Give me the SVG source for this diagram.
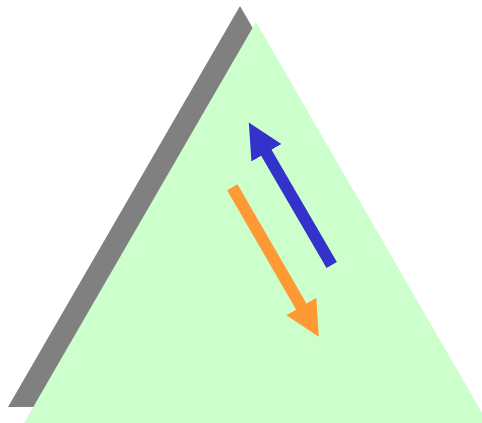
<svg xmlns="http://www.w3.org/2000/svg" width="482" height="423" viewBox="0 0 482 423">
  <defs>
    <style>
      .shaft { stroke-width: 12; stroke-linecap: butt; fill: none; }
    </style>
    <marker id="headBlue" markerUnits="userSpaceOnUse" markerWidth="40" markerHeight="40" viewBox="0 -20 40 40" refX="1" refY="0" orient="auto">
      <path d="M0,-17.3 L35,0 L0,17.3 Z" fill="#3333cc"/>
    </marker>
    <marker id="headOrange" markerUnits="userSpaceOnUse" markerWidth="40" markerHeight="40" viewBox="0 -20 40 40" refX="1" refY="0" orient="auto">
      <path d="M0,-17.3 L35,0 L0,17.3 Z" fill="#ff9933"/>
    </marker>
  </defs>
  <rect width="482" height="423" fill="#ffffff"/>
  <g id="shadow">
    <polygon points="240,6 8,407 472,407" fill="#808080"/>
  </g>
  <g id="triangle">
    <polygon points="256,22 24,423 488,423" fill="#ccffcc"/>
  </g>
  <g id="connectors">
    <line class="shaft" x1="331.7" y1="265" x2="265.9" y2="151.9" stroke="#3333cc" marker-end="url(#headBlue)"/>
    <line class="shaft" x1="232.3" y1="187.2" x2="301.8" y2="307.4" stroke="#ff9933" marker-end="url(#headOrange)"/>
  </g>
</svg>
